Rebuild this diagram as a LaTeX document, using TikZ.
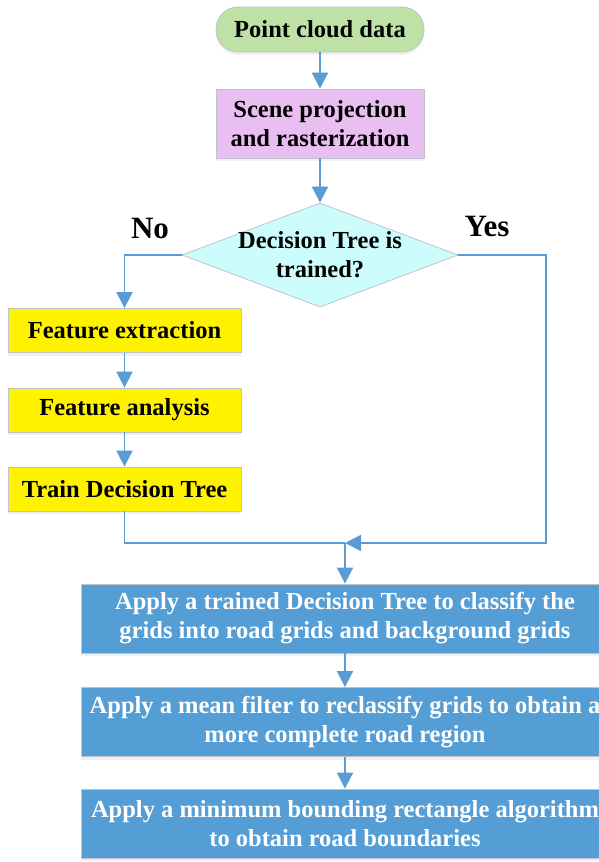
\documentclass[tikz,border=0pt]{standalone}
\usepackage{fontspec}
\setmainfont{Liberation Serif}
\usepackage{xcolor}
\usetikzlibrary{arrows.meta,shapes.geometric,shadows}
\usepackage{tikz}

\definecolor{arrowblue}{RGB}{91,155,213}
\definecolor{boxblue}{RGB}{84,158,213}
\definecolor{edgegray}{RGB}{190,196,204}
\definecolor{startgreen}{RGB}{190,226,166}
\definecolor{scenepink}{RGB}{233,190,240}
\definecolor{decisioncyan}{RGB}{204,252,252}

\begin{document}
\begin{tikzpicture}[x=1pt, y=-1pt,
	basebox/.style={draw=edgegray, line width=0.8pt, inner sep=0pt, align=center,
		font=\fontsize{24.5}{29}\selectfont\bfseries,
		drop shadow={shadow xshift=0pt, shadow yshift=-3pt, opacity=0.12}},
	startbox/.style={basebox, fill=startgreen, rounded corners=22pt, minimum width=208pt, minimum height=45pt},
	scenebox/.style={basebox, fill=scenepink, minimum width=208pt, minimum height=69pt},
	decbox/.style={draw=edgegray, line width=0.8pt, fill=decisioncyan, diamond, inner sep=0pt, minimum width=276pt, minimum height=104pt},
	featbox/.style={basebox, fill=yellow, minimum width=233pt, minimum height=44pt},
	applybox/.style={basebox, fill=boxblue, text=white, minimum width=528pt, minimum height=69pt},
	answer/.style={font=\fontsize{31}{34}\selectfont\bfseries},
	link/.style={draw=arrowblue, line width=1.8pt},
	arr/.style={link, -{Triangle[width=16pt,length=16pt]}}]
\useasboundingbox (0,0) rectangle (599,862);

\node[startbox] (pcd) at (320,29.5) {Point cloud data};
\node[scenebox] (scene) at (320,123.5) {Scene projection\\and rasterization};
\node[decbox] (dec) at (320,255) {};
\node[align=center, font=\fontsize{24.5}{29}\selectfont\bfseries] (dectext) at (dec.center) {Decision Tree is\\trained?};
\node[answer] (no) at (150,228) {No};
\node[answer] (yes) at (487,226) {Yes};

\node[featbox] (fe) at (124.5,330.5) {Feature extraction};
\node[featbox] (fa) at (124.5,410) {Feature analysis};
\node[featbox] (td) at (124.5,489) {Train Decision Tree};

\coordinate (join) at (345,543);
\coordinate (right) at (546,543);

\node[applybox] (b1) at (345,618.5) {Apply a trained Decision Tree to classify the\\grids into road grids and background grids};
\node[applybox] (b2) at (345,722) {Apply a mean filter to reclassify grids to obtain a\\more complete road region};
\node[applybox] (b3) at (345,823.5) {Apply a minimum bounding rectangle algorithm\\to obtain road boundaries};

\draw[arr] (pcd) -- (scene);
\draw[arr] (scene) -- (dec.north);
\draw[arr] (dec.west) -| (fe.north);
\draw[arr] (fe) -- (fa);
\draw[arr] (fa) -- (td);
\draw[link] (td.south) |- (join);
\draw[arr] (dec.east) -| (right) -- (join);
\draw[arr] (join) -- (b1.north);
\draw[arr] (b1) -- (b2);
\draw[arr] (b2) -- (b3);
\end{tikzpicture}
\end{document}
